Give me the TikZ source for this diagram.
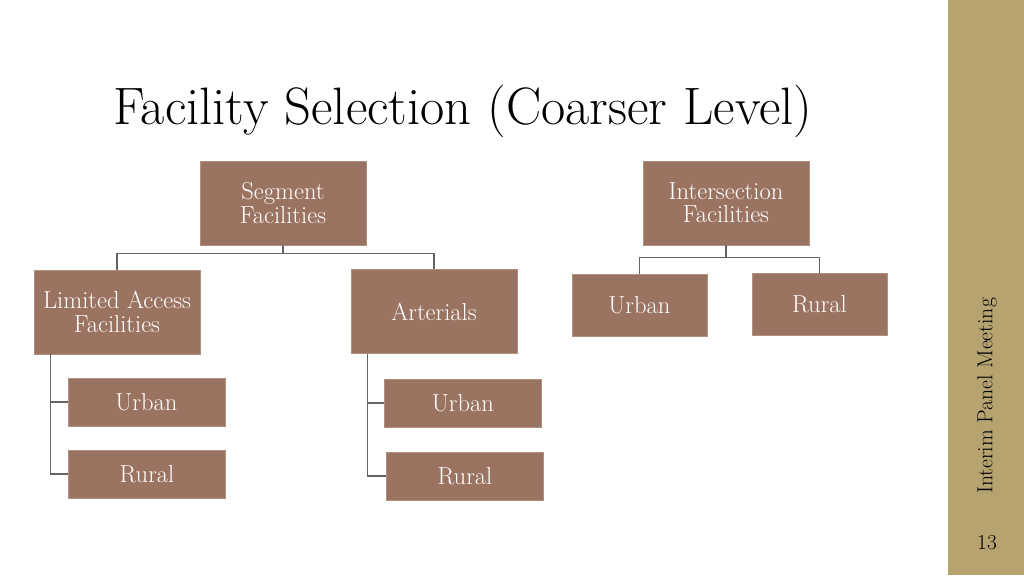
\documentclass[tikz,border=0pt]{standalone}
\usepackage{tikz}
\usetikzlibrary{positioning, calc}
\usepackage{xcolor}
\definecolor{boxbrown}{RGB}{155,116,97}
\definecolor{sidetan}{RGB}{183,163,112}
\definecolor{linkgray}{RGB}{100,100,100}
\begin{document}
\begin{tikzpicture}[x=0.75pt, y=-0.75pt,
    facbox/.style={draw=boxbrown!80!white, fill=boxbrown, text=white, align=center,
      inner sep=0pt, font=\fontsize{18.4}{17.5}\selectfont},
    bigbox/.style={facbox, minimum width={166*0.75pt}, minimum height={84*0.75pt}},
    leafbox/.style={facbox, minimum width={157*0.75pt}, minimum height={48*0.75pt}},
    widebox/.style={facbox, minimum width={135*0.75pt}, minimum height={62*0.75pt}},
    link/.style={draw=linkgray, line width=1pt}]
      \useasboundingbox (0, 0) rectangle (1024, 575);
      \fill[sidetan] (948, 0) rectangle (1024, 575);

      \node[anchor=west, inner sep=0pt, font=\fontsize{39.5}{46}\selectfont] (title) at (113, 111)
      {Facility Selection (Coarser Level)};

      \node[bigbox] (seg) at (283, 203) {Segment\\Facilities};
      \node[bigbox] (lim) at (117, 312) {Limited Access\\Facilities};
      \node[bigbox] (art) at (434, 311.5) {Arterials};
      \node[leafbox] (urbl) at (146.5, 402) {Urban};
      \node[leafbox] (rurl) at (147, 474) {Rural};
      \node[leafbox] (urba) at (463, 403) {Urban};
      \node[leafbox] (rura) at (465, 476) {Rural};

      \node[bigbox] (int) at (726, 203) {Intersection\\Facilities};
      \node[widebox] (urbi) at (639.5, 305) {Urban};
      \node[widebox] (ruri) at (819.5, 304) {Rural};

      \coordinate (segjoin) at ($(seg.south)+(0, 8)$);
      \coordinate (intjoin) at ($(int.south)+(0, 12)$);
      \draw[link] (seg.south) -- (segjoin) -| (lim.north)
      (segjoin) -| (art.north);
      \draw[link] (int.south) -- (intjoin) -| (urbi.north)
      (intjoin) -| (ruri.north);

      \coordinate (limstem) at ($(lim.south west)+(17, 0)$);
      \coordinate (artstem) at ($(art.south west)+(17, 0)$);
      \draw[link] (limstem) |- (rurl.west) (limstem) |- (urbl.west);
      \draw[link] (artstem) |- (rura.west) (artstem) |- (urba.west);

      \node[rotate=90, font=\fontsize{16.3}{18}\selectfont] (meeting) at (987, 396) {Interim Panel Meeting};
      \node[font=\fontsize{16}{18}\selectfont] (page) at (987, 543) {13};
    \end{tikzpicture}
\end{document}
